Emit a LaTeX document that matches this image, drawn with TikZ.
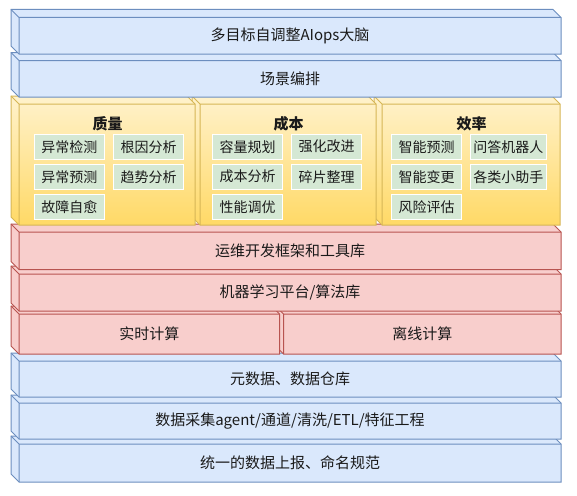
\documentclass[tikz,border=0pt]{standalone}
\usepackage{fontspec}
\usepackage{tikz}
\newfontfamily\cjk{Noto Sans CJK SC}
\definecolor{layerblue}{HTML}{DAE8FC}
\definecolor{layerbluedraw}{HTML}{6C8EBF}
\definecolor{layerred}{HTML}{F8CECC}
\definecolor{layerreddraw}{HTML}{B85450}
\definecolor{layeryellowtop}{HTML}{FFF2CC}
\definecolor{layeryellowbot}{HTML}{FFD966}
\definecolor{layeryellowdraw}{HTML}{D6B656}
\definecolor{taskgreen}{HTML}{D5E8D4}
\definecolor{textdark}{HTML}{1A1A1A}
% layer block: left, top, right, bottom, face style, edge colour
\newcommand{\layerbox}[6]{%
  \draw[#5, draw=#6] (#1,#2) -- ({#3-8},#2) -- (#3,{#2+8}) -- (#3,#4) -- ({#1+8},#4) -- (#1,{#4-8}) -- cycle;
  \draw[draw=#6] (#1,#2) -- ({#1+8},{#2+8}) -- (#3,{#2+8}) ({#1+8},{#2+8}) -- ({#1+8},#4);
}

\begin{document}
\begin{tikzpicture}[x=1pt, y=-1pt, line width=1pt,
  label/.style={font=\cjk\fontsize{15}{18}\selectfont, text=textdark},
  head/.style={font=\cjk\bfseries\fontsize{15}{18}\selectfont, text=textdark},
  task/.style={font=\cjk\fontsize{14}{17}\selectfont, text=textdark, fill=taskgreen, draw=white,
    minimum width=70pt, minimum height=25pt, inner sep=0pt},
  bluelayer/.style={fill=layerblue},
  redlayer/.style={fill=layerred},
  yellowlayer/.style={top color=layeryellowtop, bottom color=layeryellowbot}]
\fill[white] (0,0) rectangle (577,495);
\useasboundingbox (0,0) rectangle (577,495);
% Data layers
\layerbox{11}{436}{561}{482}{bluelayer}{layerbluedraw}
\node[label] (report) at (290,463) {统一的数据上报、命名规范};
\layerbox{11}{395}{561}{439}{bluelayer}{layerbluedraw}
\node[label] (collect) at (290,421) {数据采集agent/通道/清洗/ETL/特征工程};
\layerbox{11}{353}{561}{397}{bluelayer}{layerbluedraw}
\node[label] (meta) at (290,379) {元数据、数据仓库};
% Compute
\layerbox{275.5}{306}{561}{354}{redlayer}{layerreddraw}
\node[label] (offline) at (422.25,334) {离线计算};
\layerbox{11}{306}{279.5}{354}{redlayer}{layerreddraw}
\node[label] (realtime) at (149.25,334) {实时计算};
\layerbox{11}{266}{561}{311}{redlayer}{layerreddraw}
\node[label] (mlplat) at (290,292.5) {机器学习平台/算法库};
\layerbox{11}{224}{561}{269.5}{redlayer}{layerreddraw}
\node[label] (devtools) at (290,250.75) {运维开发框架和工具库};
% Scenes
\layerbox{374}{96}{560}{225}{yellowlayer}{layeryellowdraw}
\layerbox{192}{96}{376}{225}{yellowlayer}{layeryellowdraw}
\layerbox{11}{96}{195}{225}{yellowlayer}{layeryellowdraw}
\node[head] (quality) at (107.5,123.5) {质量};
\node[head] (cost) at (288.5,123.5) {成本};
\node[head] (efficiency) at (471.5,123.5) {效率};
\node[task] (anomaly) at (69.35,146.7) {异常检测};
\node[task] (rootcause) at (148.5,146.7) {根因分析};
\node[task] (anomalypred) at (69.35,176.7) {异常预测};
\node[task] (trend) at (148.5,176.7) {趋势分析};
\node[task] (selfheal) at (69.35,206.7) {故障自愈};
\node[task] (capacity) at (247.5,146.7) {容量规划};
\node[task] (reinforce) at (326.7,146.7) {强化改进};
\node[task] (costana) at (247.5,176.7) {成本分析};
\node[task] (defrag) at (326.7,176.7) {碎片整理};
\node[task] (perftune) at (247.5,206.7) {性能调优};
\node[task] (smartpred) at (426.5,146.7) {智能预测};
\node[task, minimum width=76pt] (qabot) at (508.35,146.7) {问答机器人};
\node[task] (smartchange) at (426.5,176.7) {智能变更};
\node[task, minimum width=76pt] (helper) at (508.35,176.7) {各类小助手};
\node[task] (risk) at (426.5,206.7) {风险评估};
% Top layers
\layerbox{11}{52.5}{561}{97}{bluelayer}{layerbluedraw}
\node[label] (scene) at (290,78.75) {场景编排};
\layerbox{11}{9.5}{561}{54}{bluelayer}{layerbluedraw}
\node[label] (brain) at (290,35.5) {多目标自调整AIops大脑};
\end{tikzpicture}
\end{document}
